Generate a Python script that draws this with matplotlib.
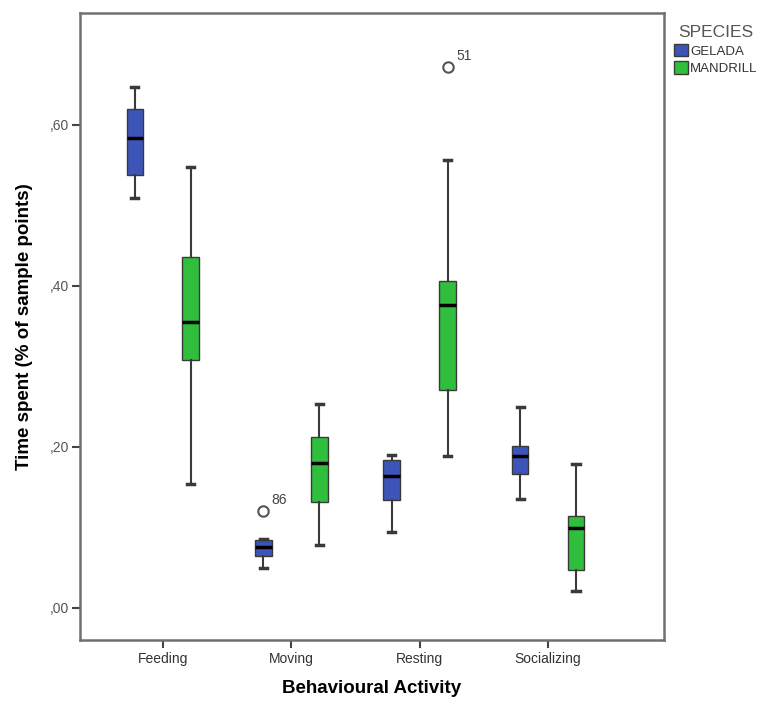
import matplotlib
matplotlib.use("Agg")
import matplotlib.pyplot as plt
from matplotlib.patches import Patch
from matplotlib.ticker import FuncFormatter

plt.rcParams['font.family'] = ['Liberation Sans', 'DejaVu Sans']

# data: (low whisker, Q1, median, Q3, high whisker)
activities = ['Feeding', 'Moving', 'Resting', 'Socializing']
gelada = [(0.509, 0.538, 0.584, 0.619, 0.647),
          (0.050, 0.065, 0.075, 0.084, 0.086),
          (0.094, 0.134, 0.164, 0.183, 0.190),
          (0.135, 0.166, 0.189, 0.201, 0.250)]
mandrill = [(0.154, 0.308, 0.355, 0.436, 0.547),
            (0.078, 0.132, 0.180, 0.212, 0.253),
            (0.189, 0.271, 0.376, 0.406, 0.556),
            (0.021, 0.047, 0.099, 0.114, 0.179)]
gelada_out = [[], [0.120], [], []]
mandrill_out = [[], [], [0.671], []]
gelada_out_ids = [[], ['86'], [], []]
mandrill_out_ids = [[], [], ['51'], []]

blue = '#3d55b8'
green = '#2fbf3c'
edge = '#3a3a3a'


def make_stats(vals, outs):
    return [dict(whislo=v[0], q1=v[1], med=v[2], q3=v[3], whishi=v[4], fliers=o)
            for v, o in zip(vals, outs)]


fig = plt.figure(figsize=(7.61, 7.04), dpi=100)
ax = fig.add_axes([0.105, 0.091, 0.767, 0.891])

off = 0.218
w = 0.13
xs = list(range(len(activities)))

for stats, shift, col, ids in [(make_stats(gelada, gelada_out), -off, blue, gelada_out_ids),
                               (make_stats(mandrill, mandrill_out), off, green, mandrill_out_ids)]:
    pos = [x + shift for x in xs]
    ax.bxp(stats, positions=pos, widths=w, patch_artist=True,
           boxprops=dict(facecolor=col, edgecolor=edge, linewidth=1),
           medianprops=dict(color='black', linewidth=2.5),
           whiskerprops=dict(color=edge, linewidth=1.5),
           capprops=dict(color=edge, linewidth=2.5),
           capwidths=0.055,
           flierprops=dict(marker='o', markerfacecolor='white', markeredgecolor='#555555',
                           markersize=7.5, markeredgewidth=1.5))
    for p, st, lab in zip(pos, stats, ids):
        for yv, t in zip(st['fliers'], lab):
            ax.annotate(t, (p, yv), xytext=(6, 5), textcoords='offset points',
                        fontsize=10, color='#444444')

ax.set_xlim(-0.646, 3.90)
ax.set_ylim(-0.0398, 0.739)
ax.set_xticks(xs)
ax.set_xticklabels(activities)
ax.set_yticks([0.0, 0.2, 0.4, 0.6])
ax.yaxis.set_major_formatter(FuncFormatter(lambda v, p: (',%02d' % round(v * 100))))
ax.tick_params(colors='#444444', labelsize=10, length=6, width=1.5, pad=3)
ax.tick_params(axis='y', labelcolor='#555555', pad=2)
ax.tick_params(axis='x', labelcolor='#333333')
for s in ax.spines.values():
    s.set_color('#707070')
    s.set_linewidth(1.8)

ax.set_xlabel('Behavioural Activity', fontsize=13.5, fontweight='bold', labelpad=10)
ax.set_ylabel('Time spent (% of sample points)', fontsize=13.5, fontweight='bold', labelpad=12)

handles = [Patch(facecolor=blue, edgecolor=edge, label='GELADA'),
           Patch(facecolor=green, edgecolor=edge, label='MANDRILL')]
leg = fig.legend(handles=handles, title='SPECIES', loc='upper left',
                 bbox_to_anchor=(0.873, 0.978), frameon=False, fontsize=9.5,
                 title_fontsize=12.5, handlelength=1.1, handleheight=1.1,
                 handletextpad=0.15, labelspacing=0.3, borderpad=0.2)
leg.get_title().set_color('#555555')
for t in leg.get_texts():
    t.set_color('#333333')

fig.savefig('out.png', dpi=100)
